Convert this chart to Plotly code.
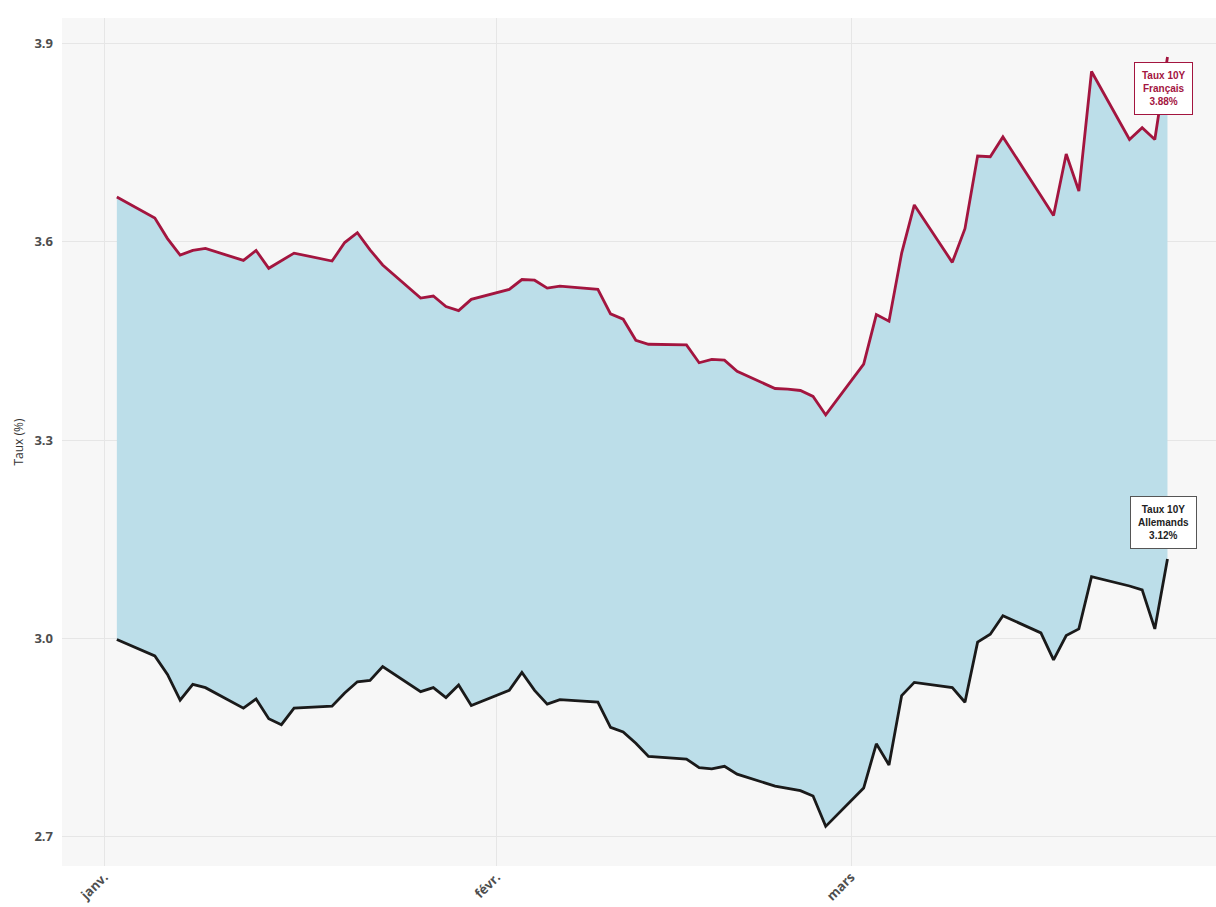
import plotly.graph_objects as go

dates_jan = ["2026-01-02", "2026-01-05", "2026-01-06", "2026-01-07", "2026-01-08", "2026-01-09",
             "2026-01-12", "2026-01-13", "2026-01-14", "2026-01-15", "2026-01-16",
             "2026-01-19", "2026-01-20", "2026-01-21", "2026-01-22", "2026-01-23",
             "2026-01-26", "2026-01-27", "2026-01-28", "2026-01-29", "2026-01-30"]
dates_feb = ["2026-02-02", "2026-02-03", "2026-02-04", "2026-02-05", "2026-02-06",
             "2026-02-09", "2026-02-10", "2026-02-11", "2026-02-12", "2026-02-13",
             "2026-02-16", "2026-02-17", "2026-02-18", "2026-02-19", "2026-02-20",
             "2026-02-23", "2026-02-24", "2026-02-25", "2026-02-26", "2026-02-27"]
dates_mar = ["2026-03-02", "2026-03-03", "2026-03-04", "2026-03-05", "2026-03-06",
             "2026-03-09", "2026-03-10", "2026-03-11", "2026-03-12", "2026-03-13",
             "2026-03-16", "2026-03-17", "2026-03-18", "2026-03-19", "2026-03-20",
             "2026-03-23", "2026-03-24", "2026-03-25", "2026-03-26"]
dates = dates_jan + dates_feb + dates_mar

taux_fr = [3.668, 3.636, 3.605, 3.580, 3.587, 3.590, 3.572, 3.587, 3.560, 3.572, 3.583,
           3.571, 3.599, 3.614, 3.588, 3.565, 3.515, 3.518, 3.502, 3.496, 3.513,
           3.528, 3.543, 3.542, 3.530, 3.533, 3.528, 3.491, 3.483, 3.451, 3.445,
           3.444, 3.417, 3.422, 3.421, 3.404, 3.378, 3.377, 3.375, 3.366, 3.338,
           3.415, 3.490, 3.480, 3.583, 3.656, 3.569, 3.620, 3.730, 3.729, 3.759,
           3.670, 3.640, 3.733, 3.677, 3.858, 3.755, 3.773, 3.755, 3.880]

taux_de = [2.998, 2.973, 2.945, 2.906, 2.930, 2.925, 2.894, 2.908, 2.878, 2.869, 2.894,
           2.897, 2.917, 2.934, 2.936, 2.957, 2.919, 2.925, 2.910, 2.929, 2.898,
           2.921, 2.948, 2.921, 2.900, 2.907, 2.903, 2.865, 2.858, 2.841, 2.821,
           2.817, 2.804, 2.802, 2.806, 2.794, 2.776, 2.772, 2.769, 2.761, 2.715,
           2.773, 2.840, 2.808, 2.913, 2.933, 2.925, 2.903, 2.994, 3.006, 3.034,
           3.008, 2.967, 3.004, 3.014, 3.093, 3.079, 3.073, 3.014, 3.120]

x_tickvals = ["2026-01-01", "2026-02-01", "2026-03-01"]
x_ticktext = ["janv.", "févr.", "mars"]
y_tickvals = [2.7, 3.0, 3.3, 3.6, 3.9]
y_ticktext = ["2.7", "3.0", "3.3", "3.6", "3.9"]

col_fr = "#a3153f"
col_de = "#1a1a1a"
col_fill = "rgb(188,222,233)"

fig = go.Figure()
fig.add_trace(go.Scatter(x=dates, y=taux_de, mode="lines", line=dict(width=0, color=col_fill),
                         showlegend=False, hoverinfo="skip"))
fig.add_trace(go.Scatter(x=dates, y=taux_fr, mode="lines", line=dict(width=0, color=col_fill),
                         fill="tonexty", fillcolor=col_fill, showlegend=False, hoverinfo="skip"))
fig.add_trace(go.Scatter(x=dates, y=taux_de, mode="lines", line=dict(width=2.8, color=col_de),
                         showlegend=False, name="Taux 10Y Allemands"))
fig.add_trace(go.Scatter(x=dates, y=taux_fr, mode="lines", line=dict(width=2.8, color=col_fr),
                         showlegend=False, name="Taux 10Y Français"))

fig.add_annotation(x=dates[-1], y=taux_fr[-1], xref="x", yref="y",
                   text="<b>Taux 10Y<br>Français<br>%.2f%%</b>" % taux_fr[-1],
                   showarrow=False, xshift=-4, yshift=-32,
                   font=dict(family="Liberation Sans", size=10, color=col_fr),
                   bgcolor="white", bordercolor=col_fr, borderwidth=1, borderpad=7)
fig.add_annotation(x=dates[-1], y=taux_de[-1], xref="x", yref="y",
                   text="<b>Taux 10Y<br>Allemands<br>%.2f%%</b>" % taux_de[-1],
                   showarrow=False, xshift=-4, yshift=36,
                   font=dict(family="Liberation Sans", size=10, color="#222222"),
                   bgcolor="white", bordercolor="#555555", borderwidth=1, borderpad=7)

fig.update_layout(
    width=1216, height=907,
    margin=dict(l=62, r=0, t=18, b=41),
    paper_bgcolor="white",
    plot_bgcolor="#f7f7f7",
    font=dict(family="Open Sans", color="#444444"),
    xaxis=dict(
        type="date",
        range=["2025-12-28 16:00", "2026-03-29 20:00"],
        tickvals=x_tickvals, ticktext=x_ticktext,
        tickangle=-45,
        tickfont=dict(size=13, color="#4d4d4d", weight="bold"),
        showgrid=True, gridcolor="#e6e6e6", gridwidth=1,
        zeroline=False, showline=False, ticks="",
    ),
    yaxis=dict(
        range=[2.655, 3.939],
        tickvals=y_tickvals, ticktext=y_ticktext,
        tickfont=dict(size=13, color="#4d4d4d", weight="bold"),
        showgrid=True, gridcolor="#e6e6e6", gridwidth=1,
        zeroline=False, showline=False, ticks="",
        ticklabelstandoff=8,
        title=dict(text="Taux (%)", font=dict(size=12, color="#333333"), standoff=8),
    ),
)

fig.write_html("out.html")
